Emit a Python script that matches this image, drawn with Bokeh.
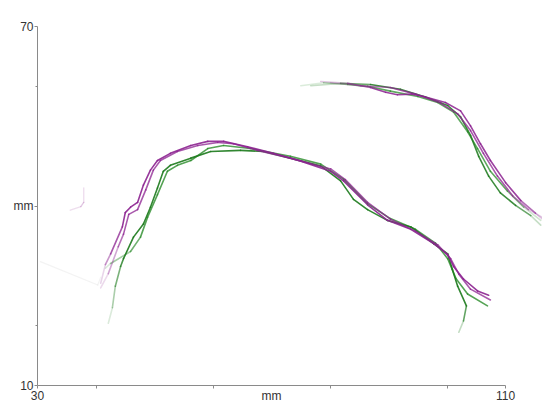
from bokeh.plotting import figure
from bokeh.models import FixedTicker, ColumnDataSource
from bokeh.embed import file_html
from bokeh.resources import INLINE

# ---- data (mm) ----
# lower arch
p1_x = [40.8, 41.6, 42.5, 44.5, 45.0, 45.9, 47.1, 48.1, 49.3, 50.5, 52.7, 56.2, 59.1, 61.8, 65.9, 70.3, 75.0, 80.1, 82.3, 86.4, 89.8, 93.8, 97.7, 100.1, 101.1, 102.8, 105.2, 107.1]
p1_y = [27.1, 30.2, 32.0, 36.5, 38.9, 39.8, 40.6, 43.5, 46.0, 47.6, 48.8, 50.1, 50.8, 50.8, 49.9, 48.8, 47.5, 45.8, 44.2, 40.2, 37.6, 36.1, 33.7, 31.9, 29.9, 27.8, 25.8, 25.1]
p2_x = [40.8, 42.1, 43.8, 44.7, 45.6, 47.1, 48.5, 49.8, 51.0, 53.9, 57.4, 60.8, 63.5, 67.6, 73.2, 80.1, 82.6, 86.4, 90.3, 94.6, 98.4, 100.6, 102.0, 104.0, 107.4]
p2_y = [26.3, 28.7, 33.2, 35.3, 38.6, 39.4, 42.7, 46.0, 47.6, 49.1, 50.1, 50.6, 50.4, 49.3, 48.0, 46.2, 44.4, 40.6, 37.8, 35.8, 33.5, 31.2, 28.6, 26.1, 24.3]
g1_x = [42.1, 42.8, 43.3, 44.2, 44.7, 46.4, 48.1, 49.3, 50.5, 51.5, 52.7, 56.2, 59.6, 64.7, 68.6, 73.2, 78.4, 81.8, 84.0, 86.4, 89.8, 93.8, 97.7, 100.1, 100.9, 101.8, 103.3, 102.8, 102.0]
g1_y = [20.4, 23.0, 26.6, 29.9, 31.2, 34.8, 37.0, 39.8, 43.0, 45.8, 46.8, 48.0, 49.1, 49.3, 49.1, 48.0, 46.7, 44.2, 41.1, 39.4, 37.6, 36.5, 33.7, 32.0, 29.4, 26.6, 23.3, 20.8, 18.9]
g2_x = [41.6, 42.5, 45.9, 47.6, 48.8, 50.5, 52.2, 53.9, 56.2, 59.1, 61.8, 66.4, 73.2, 78.4, 82.3, 86.4, 90.3, 94.6, 98.0, 100.1, 101.5, 103.5, 106.9]
g2_y = [29.6, 30.4, 32.4, 34.8, 38.1, 41.9, 45.8, 46.8, 47.6, 49.6, 50.1, 49.6, 48.3, 47.0, 44.5, 40.4, 37.9, 36.1, 33.8, 31.2, 27.9, 25.3, 23.3]
# upper-right group
g3_x = [75.0, 78.9, 83.0, 86.4, 90.3, 95.0, 98.4, 101.1, 103.5, 105.2, 107.4, 110.3, 113.1, 116.0]
g3_y = [60.1, 60.6, 60.3, 60.0, 59.2, 58.3, 57.3, 55.7, 52.4, 49.6, 45.8, 42.5, 39.8, 37.6]
g4_x = [76.7, 81.8, 86.9, 92.0, 96.3, 100.1, 102.3, 104.0, 105.4, 107.1, 109.1, 111.7, 114.3, 116.0]
g4_y = [60.1, 60.5, 60.3, 59.5, 58.2, 56.8, 54.9, 51.8, 48.3, 45.0, 42.2, 40.1, 38.4, 36.8]
p3_x = [78.4, 83.0, 86.9, 89.5, 91.5, 94.0, 96.0, 99.7, 102.3, 104.0, 105.7, 107.4, 110.0, 112.6, 115.1, 116.3]
p3_y = [60.8, 60.5, 59.8, 59.0, 58.6, 58.7, 58.3, 57.3, 55.9, 53.4, 50.4, 47.6, 43.9, 40.9, 38.8, 37.8]
p4_x = [80.1, 85.2, 90.3, 94.6, 98.9, 101.8, 104.0, 106.2, 108.6, 111.2, 113.9, 116.3]
p4_y = [60.6, 60.1, 59.8, 58.7, 57.2, 55.4, 52.6, 48.8, 45.0, 41.7, 39.4, 38.1]
# faint traces at left
f1_x = [30.5, 40.3, 40.8]
f1_y = [30.7, 26.8, 28.1]
f2_x = [35.6, 37.4, 37.9, 37.9]
f2_y = [39.3, 39.9, 40.6, 43.0]

x_ticks = [30, 70, 110]
x_minor = [30, 40, 60, 80, 100, 110]
y_ticks = [10, 40, 70]
y_minor = [20, 60]

PURPLE = "#8c2290"
GREEN = "#2b8c2b"
DKGREEN = "#1c7a1c"

p = figure(width=542, height=405, x_range=(30, 116.3), y_range=(10, 70),
           output_backend="svg", toolbar_location=None,
           min_border_left=37, min_border_right=0, min_border_top=26, min_border_bottom=2)
p.outline_line_color = None
p.xgrid.visible = False
p.ygrid.visible = False


def faded(xs, ys, color, fade_in, fade_out, base=0.95, width=1.6, lo=0.05):
    sx, sy, al = [], [], []
    n = len(xs) - 1
    for i in range(n):
        a = base
        if fade_in and i < fade_in:
            a = lo + (base - lo) * (i + 0.5) / fade_in
        if fade_out and i >= n - fade_out:
            k = n - i - 0.5
            a = min(a, lo + (base - lo) * k / fade_out)
        sx.append([xs[i], xs[i + 1]])
        sy.append([ys[i], ys[i + 1]])
        al.append(a)
    src = ColumnDataSource(dict(xs=sx, ys=sy, a=al))
    p.multi_line("xs", "ys", source=src, line_color=color, line_alpha="a",
                 line_width=width, line_cap="round", line_join="round")


faded(f1_x, f1_y, "#999999", 0, 0, base=0.12, width=1.2)
faded(f2_x, f2_y, PURPLE, 1, 1, base=0.25, width=1.4)
faded(g2_x, g2_y, GREEN, 3, 0, base=0.8)
faded(g1_x, g1_y, DKGREEN, 4, 2, base=0.9)
faded(p2_x, p2_y, PURPLE, 3, 0, base=0.75)
faded(p1_x, p1_y, PURPLE, 3, 0, base=0.9)
faded(g3_x, g3_y, GREEN, 3, 2, base=0.75)
faded(g4_x, g4_y, DKGREEN, 2, 2, base=0.85)
faded(p3_x, p3_y, PURPLE, 2, 2, base=0.85)
faded(p4_x, p4_y, PURPLE, 2, 2, base=0.75)

for ax in (p.xaxis[0], p.yaxis[0]):
    ax.axis_line_color = "#8a8a8a"
    ax.major_tick_line_color = "#8a8a8a"
    ax.minor_tick_line_color = "#8a8a8a"
    ax.major_label_text_font = "Liberation Sans"
    ax.major_label_text_font_size = "12px"
    ax.major_label_text_color = "#333333"
    ax.major_label_standoff = 1
    ax.major_tick_in = 0
    ax.minor_tick_in = 0

xa = p.xaxis[0]
xa.ticker = FixedTicker(ticks=x_ticks, minor_ticks=x_minor)
xa.major_tick_out = 0
xa.minor_tick_out = 3
xa.bounds = (30, 110)
xa.major_label_standoff = 0
xa.major_label_overrides = {70: "mm"}

ya = p.yaxis[0]
ya.ticker = FixedTicker(ticks=y_ticks, minor_ticks=y_minor)
ya.major_tick_out = 3
ya.minor_tick_out = 2
ya.bounds = (10, 70)
ya.major_label_overrides = {40: "mm"}

open("out.html", "w").write(file_html(p, INLINE))
